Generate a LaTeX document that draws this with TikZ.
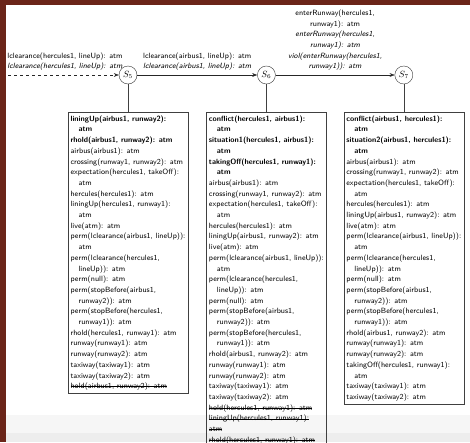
\documentclass[tikz,border=0pt]{standalone}
\usetikzlibrary{arrows.meta, positioning}
\definecolor{framebrown}{RGB}{107,37,25}
\definecolor{bandlight}{RGB}{246,246,246}
\definecolor{banddark}{RGB}{237,237,237}
\newcommand{\atmfont}{\sffamily\fontsize{7.6}{10.7}\selectfont}
\newcommand{\ind}{\hspace*{8pt}}
\newsavebox{\strikebox}
\newcommand{\strikeout}[1]{\sbox{\strikebox}{#1}%
  \rlap{\rule[0.25em]{\wd\strikebox}{0.4pt}}\usebox{\strikebox}}
\tikzset{
  stnode/.style={circle, draw=black!80, minimum size=18pt, inner sep=0pt, font=\small},
  worldbox/.style={rectangle, draw=black!75, semithick, minimum width=120pt,
    align=left, inner xsep=2pt, inner ysep=3pt, font=\atmfont},
  elabel/.style={align=center, inner sep=2pt, font=\atmfont},
  arr/.style={-{Stealth[length=5pt]}, draw=black!85},
  initarr/.style={-{Stealth[length=5pt]}, draw=black!85, dashed},
  link/.style={draw=black!75, semithick},
}

\begin{document}
\begin{tikzpicture}[x=1pt, y=-1pt, node distance=28pt]
  \useasboundingbox (0,0) rectangle (470,442);
  \clip (0,0) rectangle (470,442);

  % Frame and footer band
  \fill[framebrown] (0,0) rectangle (470,5);
  \fill[framebrown] (0,0) rectangle (6,442);
  \fill[bandlight] (6,415) rectangle (470,433);
  \fill[banddark] (6,433) rectangle (470,442);

  % States
  \node[stnode] (s5) at (128,75) {$S_5$};
  \node[stnode, right=120pt of s5] (s6) {$S_6$};
  \node[stnode, right=119pt of s6] (s7) {$S_7$};
  \coordinate (init) at (8,75);

  % Worlds
  \node[worldbox, below=of s5] (b5) {%
    \textbf{liningUp(airbus1, runway2):}\\
    \ind\textbf{atm}\\
    \textbf{rhold(airbus1, runway2): atm}\\
    airbus(airbus1): atm\\
    crossing(runway1, runway2): atm\\
    expectation(hercules1, takeOff):\\
    \ind atm\\
    hercules(hercules1): atm\\
    liningUp(hercules1, runway1):\\
    \ind atm\\
    live(atm): atm\\
    perm(lclearance(airbus1, lineUp)):\\
    \ind atm\\
    perm(lclearance(hercules1,\\
    \ind lineUp)): atm\\
    perm(null): atm\\
    perm(stopBefore(airbus1,\\
    \ind runway2)): atm\\
    perm(stopBefore(hercules1,\\
    \ind runway1)): atm\\
    rhold(hercules1, runway1): atm\\
    runway(runway1): atm\\
    runway(runway2): atm\\
    taxiway(taxiway1): atm\\
    taxiway(taxiway2): atm\\
    \strikeout{hold(airbus1, runway2): atm}};

  \node[worldbox, below=of s6] (b6) {%
    \textbf{conflict(hercules1, airbus1):}\\
    \ind\textbf{atm}\\
    \textbf{situation1(hercules1, airbus1):}\\
    \ind\textbf{atm}\\
    \textbf{takingOff(hercules1, runway1):}\\
    \ind\textbf{atm}\\
    airbus(airbus1): atm\\
    crossing(runway1, runway2): atm\\
    expectation(hercules1, takeOff):\\
    \ind atm\\
    hercules(hercules1): atm\\
    liningUp(airbus1, runway2): atm\\
    live(atm): atm\\
    perm(lclearance(airbus1, lineUp)):\\
    \ind atm\\
    perm(lclearance(hercules1,\\
    \ind lineUp)): atm\\
    perm(null): atm\\
    perm(stopBefore(airbus1,\\
    \ind runway2)): atm\\
    perm(stopBefore(hercules1,\\
    \ind runway1)): atm\\
    rhold(airbus1, runway2): atm\\
    runway(runway1): atm\\
    runway(runway2): atm\\
    taxiway(taxiway1): atm\\
    taxiway(taxiway2): atm\\
    \strikeout{hold(hercules1, runway1): atm}\\
    \strikeout{liningUp(hercules1, runway1):}\\
    \strikeout{atm}\\
    \strikeout{rhold(hercules1, runway1): atm}};

  \node[worldbox, below=of s7] (b7) {%
    \textbf{conflict(airbus1, hercules1):}\\
    \ind\textbf{atm}\\
    \textbf{situation2(airbus1, hercules1):}\\
    \ind\textbf{atm}\\
    airbus(airbus1): atm\\
    crossing(runway1, runway2): atm\\
    expectation(hercules1, takeOff):\\
    \ind atm\\
    hercules(hercules1): atm\\
    liningUp(airbus1, runway2): atm\\
    live(atm): atm\\
    perm(lclearance(airbus1, lineUp)):\\
    \ind atm\\
    perm(lclearance(hercules1,\\
    \ind lineUp)): atm\\
    perm(null): atm\\
    perm(stopBefore(airbus1,\\
    \ind runway2)): atm\\
    perm(stopBefore(hercules1,\\
    \ind runway1)): atm\\
    rhold(airbus1, runway2): atm\\
    runway(runway1): atm\\
    runway(runway2): atm\\
    takingOff(hercules1, runway1):\\
    \ind atm\\
    taxiway(taxiway1): atm\\
    taxiway(taxiway2): atm};

  % Transitions
  \draw[initarr] (init) -- node[elabel, above=2pt, xshift=1.5pt] (l5)
    {lclearance(hercules1, lineUp): atm\\
     \textit{lclearance(hercules1, lineUp): atm}} (s5);
  \draw[arr] (s5) -- node[elabel, above=2pt] (l6)
    {lclearance(airbus1, lineUp): atm\\
     \textit{lclearance(airbus1, lineUp): atm}} (s6);
  \draw[arr] (s6) -- node[elabel, above=2pt] (l7)
    {enterRunway(hercules1,\\ runway1): atm\\
     \textit{enterRunway(hercules1,}\\ \textit{runway1): atm}\\
     \textit{viol(enterRunway(hercules1,}\\ \textit{runway1)): atm}} (s7);

  \draw[link] (s5) -- (b5);
  \draw[link] (s6) -- (b6);
  \draw[link] (s7) -- (b7);
\end{tikzpicture}
\end{document}
